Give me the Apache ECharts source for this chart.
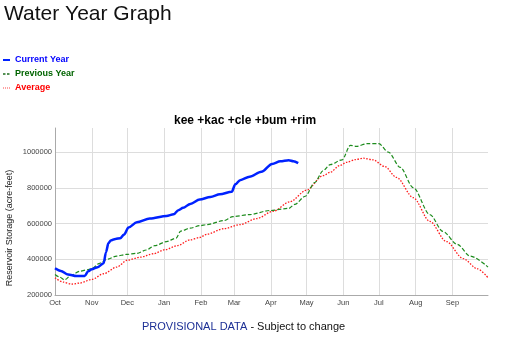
<!DOCTYPE html>
<html><head><meta charset="utf-8">
<script src="https://cdn.jsdelivr.net/npm/echarts@6/dist/echarts.min.js"></script>
<style>html,body{margin:0;padding:0;background:#fff}#c{width:528px;height:345px}</style>
</head><body><div id="c"></div><script>
// Month tick labels and the water-year day (from Oct 1) where each month starts
const monthLabels = ['Oct','Nov','Dec','Jan','Feb','Mar','Apr','May','Jun','Jul','Aug','Sep'];
const monthStartDays = [0,31,61,92,123,151,182,212,243,273,304,335];
const dayCount = 366;

// Series: [water-year day, storage acre-feet]
const currentYear = [[0,350000],[5,335000],[11,315000],[18,306000],[25,307000],[28,333000],[31,344000],[36,356000],[41,378000],[43,440000],[45,490000],[47,505000],[51,514000],[55,518000],[58,537000],[62,578000],[69,607000],[80,628000],[94,643000],[100,652000],[104,675000],[108,688000],[114,710000],[122,735000],[131,749000],[139,764000],[149,778000],[152,820000],[156,843000],[164,862000],[174,890000],[183,934000],[190,949000],[197,955000],[201,949000],[205,938000]];
const previousYear = [[0,315000],[4,300000],[8,285000],[14,313000],[21,333000],[28,342000],[32,352000],[37,376000],[44,400000],[52,418000],[60,427000],[69,433000],[77,452000],[84,476000],[94,499000],[102,518000],[106,558000],[114,574000],[122,588000],[128,594000],[142,616000],[150,639000],[164,650000],[181,673000],[197,685000],[202,707000],[211,753000],[219,830000],[226,896000],[232,930000],[242,957000],[249,1038000],[254,1032000],[263,1047000],[273,1047000],[281,1000000],[291,915000],[302,801000],[316,650000],[327,556000],[339,484000],[350,418000],[365,357000]];
const average = [[0,297000],[7,272000],[14,261000],[21,267000],[31,287000],[41,319000],[52,356000],[61,395000],[72,412000],[83,431000],[93,454000],[103,476000],[114,509000],[122,522000],[128,540000],[142,571000],[156,594000],[170,628000],[184,669000],[198,722000],[212,787000],[226,868000],[232,887000],[240,925000],[246,943000],[253,958000],[260,966000],[268,957000],[278,919000],[288,858000],[302,745000],[316,612000],[330,499000],[344,404000],[356,347000],[365,297000]];

const yMin = 200000, yMax = 1135000, yStep = 200000;

const days = [];
for (let i = 0; i < dayCount; i++) days.push(String(i));
const isMonthStart = (i) => monthStartDays.indexOf(i) >= 0;

const FONT = '"Liberation Sans", Arial, sans-serif';
const chart = echarts.init(document.getElementById('c'));
chart.setOption({
  animation: false,
  textStyle: { fontFamily: FONT },
  grid: { left: 55, right: 40, top: 128, bottom: 50, containLabel: false },
  xAxis: {
    type: 'category', data: days, boundaryGap: false,
    axisLine: { show: true, lineStyle: { color: '#aaa', width: 1 } },
    axisTick: { show: false },
    axisLabel: {
      interval: (i) => isMonthStart(i),
      formatter: (v) => monthLabels[monthStartDays.indexOf(+v)] || '',
      fontSize: 7.5, color: '#444', margin: 4, fontFamily: FONT
    },
    splitLine: { show: true, interval: (i) => isMonthStart(i), lineStyle: { color: '#ddd', width: 1 } }
  },
  yAxis: {
    type: 'value', min: yMin, max: yMax, interval: yStep,
    axisLine: { show: true, lineStyle: { color: '#aaa', width: 1 } },
    axisTick: { show: false },
    axisLabel: { fontSize: 7.5, color: '#444', margin: 3, showMaxLabel: false, fontFamily: FONT,
      formatter: (v) => String(v) },
    splitLine: { show: true, showMaxLine: false, lineStyle: { color: '#ddd', width: 1 } }
  },
  series: [
    { name: 'Average', type: 'line', data: average, showSymbol: false, smooth: 0.3, smoothMonotone: 'x',
      lineStyle: { color: '#ff1a1a', width: 1.3, type: [1.5, 1.5] }, z: 2 },
    { name: 'Previous Year', type: 'line', data: previousYear, showSymbol: false, smooth: 0.3, smoothMonotone: 'x',
      lineStyle: { color: '#1e8c1e', width: 1.2, type: [4, 2] }, z: 3 },
    { name: 'Current Year', type: 'line', data: currentYear, showSymbol: false, smooth: 0.3, smoothMonotone: 'x',
      lineStyle: { color: '#0022ff', width: 2.5 }, z: 4 }
  ],
  graphic: [
    { type: 'text', left: 4, top: 4, style: { text: 'Water Year Graph', font: '21px ' + FONT, fill: '#111' } },
    { type: 'line', shape: { x1: 3, y1: 60, x2: 10, y2: 60 }, style: { stroke: '#0022ff', lineWidth: 2 } },
    { type: 'text', x: 15, y: 60, style: { text: 'Current Year', font: 'bold 9px ' + FONT, fill: '#0000ff', verticalAlign: 'middle' } },
    { type: 'line', shape: { x1: 3, y1: 74, x2: 10, y2: 74 }, style: { stroke: '#1e6e1e', lineWidth: 1.3, lineDash: [2.5, 1.5] } },
    { type: 'text', x: 15, y: 74, style: { text: 'Previous Year', font: 'bold 9px ' + FONT, fill: '#006400', verticalAlign: 'middle' } },
    { type: 'line', shape: { x1: 3, y1: 88, x2: 10, y2: 88 }, style: { stroke: '#ff6666', lineWidth: 1.2, lineDash: [1, 1] } },
    { type: 'text', x: 15, y: 88, style: { text: 'Average', font: 'bold 9px ' + FONT, fill: '#ff0000', verticalAlign: 'middle' } },
    { type: 'text', x: 245, y: 121, style: { text: 'kee +kac +cle +bum +rim', font: 'bold 12px ' + FONT, fill: '#000', align: 'center', verticalAlign: 'middle' } },
    { type: 'text', x: 10, y: 228, rotation: Math.PI / 2, style: { text: 'Reservoir Storage (acre-feet)', font: '9px ' + FONT, fill: '#222', align: 'center', verticalAlign: 'middle' } },
    { type: 'text', x: 142, y: 327, style: {
        text: '{a|PROVISIONAL DATA}{b| - Subject to change}', verticalAlign: 'middle',
        rich: { a: { fontSize: 11, fontFamily: FONT, fill: '#1c2f95' }, b: { fontSize: 11, fontFamily: FONT, fill: '#111' } } } }
  ]
});
</script></body></html>
